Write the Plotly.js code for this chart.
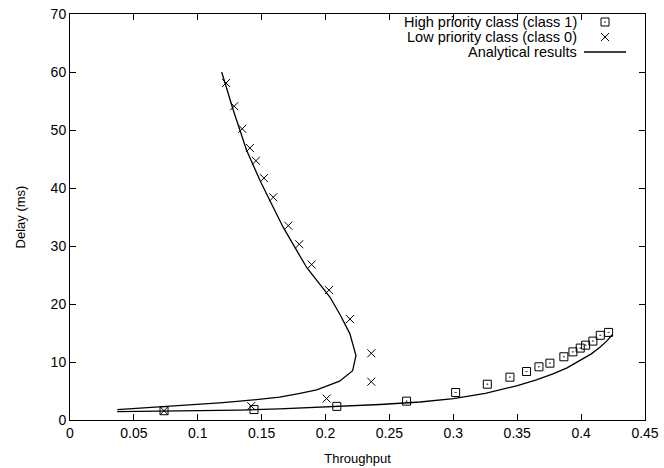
<!DOCTYPE html>
<html>
<head>
<meta charset="utf-8">
<script src="https://cdn.plot.ly/plotly-3.0.1.min.js"></script>
<style>html,body{margin:0;padding:0;background:#fff;}#chart{width:664px;height:468px;}</style>
</head>
<body>
<div id="chart"></div>
<script>
// High priority class (class 1) simulation points
const hpX = [0.0736, 0.144, 0.2088, 0.2634, 0.3018, 0.3266, 0.3443, 0.3573, 0.3670, 0.3756, 0.3865, 0.3936, 0.3993, 0.4035, 0.4092, 0.4150, 0.4215];
const hpY = [1.6, 1.8, 2.35, 3.25, 4.74, 6.17, 7.38, 8.36, 9.17, 9.8, 10.9, 11.75, 12.4, 12.9, 13.6, 14.6, 15.1];
// Low priority class (class 0) simulation points
const lpX = [0.0736, 0.1418, 0.2008, 0.2358, 0.2358, 0.2191, 0.2027, 0.1891, 0.1794, 0.1708, 0.1591, 0.1518, 0.1455, 0.1408, 0.1348, 0.1285, 0.1221];
const lpY = [1.6, 2.4, 3.7, 6.6, 11.5, 17.4, 22.4, 26.8, 30.3, 33.5, 38.4, 41.7, 44.7, 46.9, 50.2, 54.1, 58.1];
// Analytical results, low priority class
const anLowX = [0.037, 0.06, 0.086, 0.117, 0.133, 0.164, 0.18, 0.193, 0.211, 0.2212, 0.2238, 0.219, 0.2113, 0.2034, 0.1852, 0.1669, 0.1565, 0.1487, 0.1382, 0.1278, 0.1187];
const anLowY = [1.8, 2.1, 2.5, 2.96, 3.24, 3.93, 4.6, 5.2, 6.7, 8.5, 11.1, 14.9, 18.2, 21.2, 26.3, 33.2, 37.8, 41.3, 46.5, 53.4, 60.0];
// Analytical results, high priority class
const anHighX = [0.037, 0.086, 0.133, 0.164, 0.2426, 0.274, 0.300, 0.325, 0.3495, 0.365, 0.378, 0.389, 0.399, 0.408, 0.4147, 0.420, 0.4244];
const anHighY = [1.45, 1.55, 1.7, 1.93, 2.67, 3.1, 3.7, 4.6, 5.9, 6.9, 7.96, 9.0, 10.26, 11.4, 12.55, 13.6, 14.7];
// Legend labels
const legendLabels = ["High priority class (class 1)", "Low priority class (class 0)", "Analytical results"];
const legendRowsPx = [22, 37, 52];

const FONT = 'Liberation Sans, Arial, Helvetica, sans-serif';
const plotL = 70, plotR = 645, plotT = 14, plotB = 420;
const toPaperY = py => (plotB - py) / (plotB - plotT);
const toPaperX = px => (px - plotL) / (plotR - plotL);

const lineStyle = {color: '#000', width: 1.3};
const traces = [
  {x: anLowX, y: anLowY, mode: 'lines', line: lineStyle, hoverinfo: 'skip', showlegend: false},
  {x: anHighX, y: anHighY, mode: 'lines', line: lineStyle, hoverinfo: 'skip', showlegend: false},
  {x: hpX, y: hpY, mode: 'markers', showlegend: false,
   marker: {symbol: 'square-open-dot', size: 8, color: '#000', line: {color: '#000', width: 1}}},
  {x: lpX, y: lpY, mode: 'markers', showlegend: false,
   marker: {symbol: 'x-thin', size: 8, color: '#000', line: {color: '#000', width: 1}}},
  // legend keys on a hidden unit axis
  {x: [toPaperX(605)], y: [toPaperY(legendRowsPx[0])], xaxis: 'x2', yaxis: 'y2', mode: 'markers', showlegend: false, hoverinfo: 'skip',
   marker: {symbol: 'square-open-dot', size: 8, color: '#000', line: {color: '#000', width: 1}}},
  {x: [toPaperX(605)], y: [toPaperY(legendRowsPx[1])], xaxis: 'x2', yaxis: 'y2', mode: 'markers', showlegend: false, hoverinfo: 'skip',
   marker: {symbol: 'x-thin', size: 8, color: '#000', line: {color: '#000', width: 1}}}
];

const annotations = legendLabels.map((t, i) => ({
  xref: 'paper', yref: 'paper', x: toPaperX(579), y: toPaperY(legendRowsPx[i]),
  xanchor: 'right', yanchor: 'middle', text: t, showarrow: false,
  font: {family: FONT, size: 14.5, color: '#000'}
}));

const axisCommon = {
  showline: true, linecolor: '#000', linewidth: 1, mirror: 'ticks',
  ticks: 'inside', ticklen: 6, tickcolor: '#000', tickwidth: 1,
  showgrid: false, zeroline: false,
  tickfont: {family: FONT, size: 14, color: '#000'}
};

const layout = {
  width: 664, height: 468,
  margin: {l: plotL, r: 664 - plotR, t: plotT, b: 468 - plotB},
  paper_bgcolor: '#fff', plot_bgcolor: '#fff',
  showlegend: false,
  xaxis: Object.assign({}, axisCommon, {range: [0, 0.45], dtick: 0.05, tick0: 0,
    title: {text: 'Throughput', font: {family: FONT, size: 13, color: '#000'}, standoff: 14}}),
  yaxis: Object.assign({}, axisCommon, {range: [0, 70], dtick: 10, tick0: 0,
    title: {text: 'Delay (ms)', font: {family: FONT, size: 13, color: '#000'}, standoff: 22}}),
  xaxis2: {overlaying: 'x', range: [0, 1], visible: false, fixedrange: true},
  yaxis2: {overlaying: 'y', range: [0, 1], visible: false, fixedrange: true},
  annotations: annotations,
  shapes: [{type: 'line', xref: 'paper', yref: 'paper', x0: toPaperX(584), x1: toPaperX(626),
    y0: toPaperY(legendRowsPx[2]), y1: toPaperY(legendRowsPx[2]), line: {color: '#000', width: 1.3}}]
};

Plotly.newPlot('chart', traces, layout, {staticPlot: true, displayModeBar: false});
</script>
</body>
</html>
